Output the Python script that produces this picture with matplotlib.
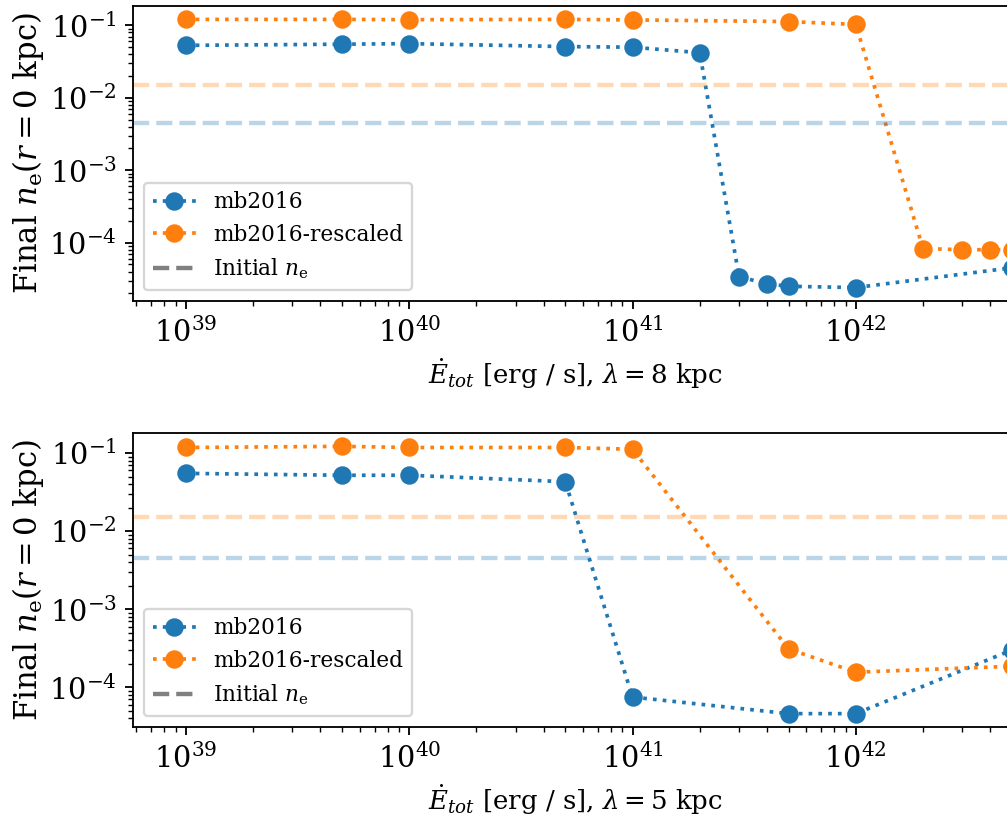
import numpy as np
import matplotlib
matplotlib.use("Agg")
import matplotlib.pyplot as plt

plt.rcParams['font.family'] = 'serif'
plt.rcParams['font.serif'] = ['DejaVu Serif']
plt.rcParams['mathtext.fontset'] = 'dejavuserif'
plt.rcParams['font.size'] = 12.5
plt.rcParams['legend.fontsize'] = 9.4

# injected energy rate [erg/s]
E_top = [1e39, 5e39, 1e40, 5e40, 1e41, 2e41, 3e41, 4e41, 5e41, 1e42, 5e42]
ne_mb_top = [0.053, 0.055, 0.056, 0.051, 0.050, 0.042, 3.4e-5, 2.7e-5, 2.5e-5, 2.4e-5, 4.5e-5]

E_top_r = [1e39, 5e39, 1e40, 5e40, 1e41, 5e41, 1e42, 2e42, 3e42, 4e42, 5e42]
ne_mbr_top = [0.121, 0.121, 0.120, 0.121, 0.119, 0.113, 0.103, 8.3e-5, 8.0e-5, 8.0e-5, 8.0e-5]

E_bot = [1e39, 5e39, 1e40, 5e40, 1e41, 5e41, 1e42, 5e42]
ne_mb_bot = [0.055, 0.052, 0.052, 0.043, 7.5e-5, 4.6e-5, 4.6e-5, 3.0e-4]
ne_mbr_bot = [0.118, 0.122, 0.118, 0.118, 0.112, 3.1e-4, 1.56e-4, 1.86e-4]

ne_init_mb = 0.0045
ne_init_mbr = 0.015

lambdas = [8, 5]

fig = plt.figure(figsize=(1007 / 166, 821 / 166), dpi=166)
ax1 = fig.add_axes([0.1321, 0.6334, 1.108, 0.3593])
ax2 = fig.add_axes([0.1321, 0.1145, 1.108, 0.3581])

panels = [
    (ax1, E_top, ne_mb_top, E_top_r, ne_mbr_top, lambdas[0]),
    (ax2, E_bot, ne_mb_bot, E_bot, ne_mbr_bot, lambdas[1]),
]

for ax, x1, y1, x2, y2, lam in panels:
    ax.plot(x1, y1, ':o', color='C0', ms=7, lw=1.6, label='mb2016')
    ax.plot(x2, y2, ':o', color='C1', ms=7, lw=1.6, label='mb2016-rescaled')
    ax.axhline(ne_init_mb, color='C0', ls='--', lw=1.9, alpha=0.3)
    ax.axhline(ne_init_mbr, color='C1', ls='--', lw=1.9, alpha=0.3)
    ax.plot([], [], color='gray', ls='--', lw=1.9, label=r'Initial $n_\mathrm{e}$')
    ax.set_xscale('log')
    ax.set_yscale('log')
    ax.set_xlim(10**38.763, 10**43.76)
    ax.set_xlabel(r'$\dot{E}_{tot}$ [erg / s], $\lambda = %d$ kpc' % lam, fontsize=11.3)
    ax.set_ylabel(r'Final $n_\mathrm{e}(r = 0\ \mathrm{kpc})$', fontsize=13.3, labelpad=1.5)
    ax.legend(loc='lower left')
    ax.xaxis.set_label_coords(442 / 1116, -0.19)

fig.savefig('out.png', dpi=166)
